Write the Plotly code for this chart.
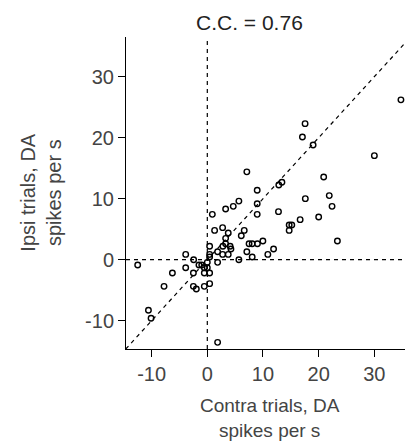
import plotly.graph_objects as go

contra = [34.77, 30.0, 17.56, 17.08, 19.0, 7.1, 13.4, 12.84, 20.9, 8.96,
          21.9, 17.6, 22.4, 8.96, 5.67, 4.66, 3.29, 0.9, 8.96, 12.78,
          20.0, 16.67, 15.17, 14.7, 14.7, 23.36, 6.63, 6.1, 1.31, 2.75,
          3.76, 3.29, 9.98, 9.0, 8.06, 7.5, 11.9, 10.87, 8.06, 7.1,
          5.67, 2.8, 4.1, 4.24, 3.29, 3.76, 2.75, 1.85, 0.42, 0.42,
          0.42, 1.85, 0.0, 0.42, 0.42, -0.54, -0.54, 0.0, -1.0, -1.5,
          -0.54, -2.45, -3.88, -3.88, -2.5, -6.27, -2.5, -1.97, -7.77, -12.5,
          -10.57, -10.1, 1.85]
ipsi = [26.2, 17.05, 22.3, 20.1, 18.8, 14.4, 12.7, 12.24, 13.55, 11.37,
        10.5, 10.0, 8.74, 9.18, 9.6, 8.74, 8.3, 7.43, 7.43, 7.87,
        7.0, 6.56, 5.68, 5.68, 4.8, 3.06, 4.8, 3.93, 4.8, 5.25,
        4.37, 3.5, 3.06, 2.62, 2.62, 2.62, 1.75, 0.87, 0.44, 1.31,
        0.0, 2.19, 2.19, 1.75, 2.62, 0.87, 0.87, 1.31, 2.19, 0.87,
        0.44, -0.44, -0.44, -2.19, -3.93, -4.37, -2.19, -1.31, -0.87, -0.87,
        -1.31, 0.0, 0.87, -1.31, -2.19, -2.19, -4.37, -4.8, -4.37, -0.87,
        -8.3, -9.6, -13.55]

x_ticks = [-10, 0, 10, 20, 30]
x_tick_labels = ["-10", "0", "10", "20", "30"]
y_ticks = [-10, 0, 10, 20, 30]
y_tick_labels = ["-10", "0", "10", "20", "30"]
x_range = [-14.6, 35.5]
y_range = [-14.64, 36.5]
title_text = "C.C. = 0.76"
x_title = "Contra trials, DA<br>spikes per s"
y_title = "Ipsi trials, DA<br>spikes per s"

font_fam = "Liberation Sans, Arial, sans-serif"
txt_col = "#444444"
dash_style = dict(color="black", width=1.2, dash="4px,4px")

fig = go.Figure()
# reference lines
fig.add_trace(go.Scatter(x=[0, 0], y=y_range, mode="lines", line=dash_style,
                         hoverinfo="skip", showlegend=False))
fig.add_trace(go.Scatter(x=x_range, y=[0, 0], mode="lines", line=dash_style,
                         hoverinfo="skip", showlegend=False))
diag_lo = min(x_range[0], y_range[0])
diag_hi = max(x_range[1], y_range[1])
fig.add_trace(go.Scatter(x=[diag_lo, diag_hi], y=[diag_lo, diag_hi], mode="lines",
                         line=dash_style, hoverinfo="skip", showlegend=False))
fig.add_trace(go.Scatter(x=contra, y=ipsi, mode="markers",
                         marker=dict(symbol="circle-open", size=5.5, color="black",
                                     line=dict(color="black", width=1.4)),
                         cliponaxis=False, showlegend=False))

fig.update_layout(
    width=405, height=445,
    margin=dict(l=126, r=0, t=37, b=96),
    paper_bgcolor="white", plot_bgcolor="white",
    font=dict(family=font_fam, size=19, color=txt_col),
    xaxis=dict(range=x_range, tickvals=x_ticks, ticktext=x_tick_labels,
               ticks="outside", ticklen=7,
               tickcolor="black", tickwidth=1, showline=True, linecolor="black",
               linewidth=1, showgrid=False, zeroline=False,
               tickfont=dict(size=20, color=txt_col)),
    yaxis=dict(range=y_range, tickvals=y_ticks, ticktext=y_tick_labels,
               ticks="outside", ticklen=7,
               tickcolor="black", tickwidth=1, showline=True, linecolor="black",
               linewidth=1, showgrid=False, zeroline=False,
               tickfont=dict(size=20, color=txt_col)),
    annotations=[
        dict(text=title_text, xref="paper", yref="paper", x=0.441, y=1.047,
             xanchor="center", yanchor="middle", showarrow=False,
             font=dict(size=21, color="#222222")),
        dict(text=x_title, xref="paper", yref="paper", x=0.516, y=-0.222,
             xanchor="center", yanchor="middle", showarrow=False,
             font=dict(size=19, color=txt_col)),
        dict(text=y_title, xref="paper", yref="paper", x=-0.306, y=0.5,
             xanchor="center", yanchor="middle", showarrow=False, textangle=-90,
             font=dict(size=20, color=txt_col)),
    ],
)

fig.write_html("out.html", config={"displayModeBar": False},
               post_script="document.body.style.margin='0';document.body.style.overflow='hidden';")
